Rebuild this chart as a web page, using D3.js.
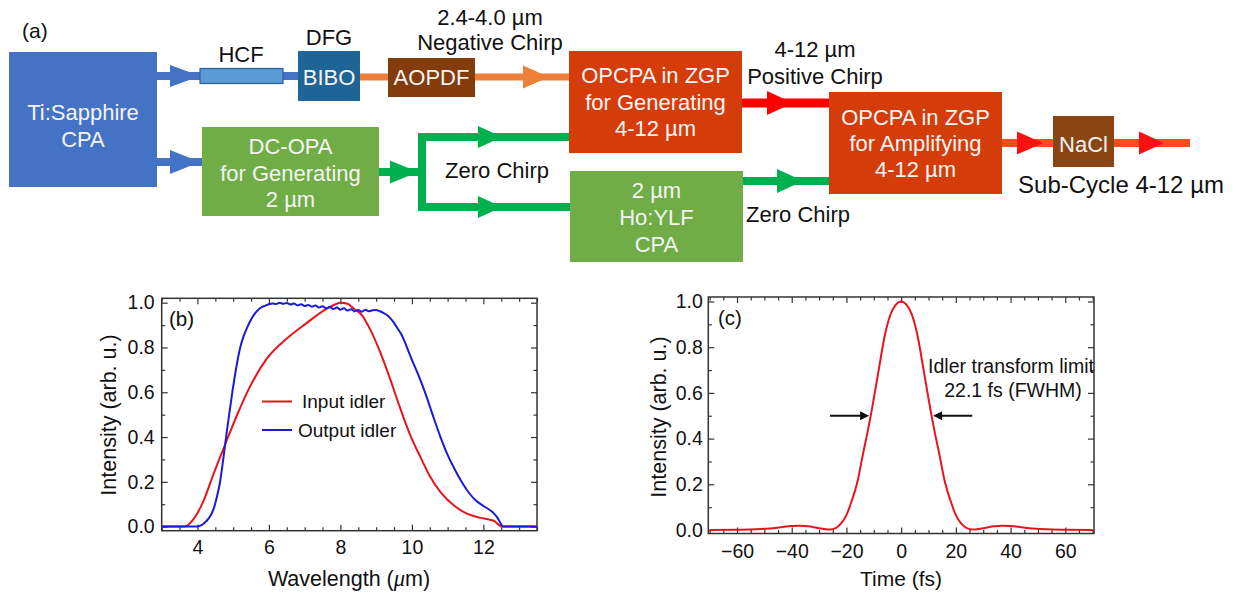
<!DOCTYPE html>
<html><head><meta charset="utf-8">
<script src="https://cdn.jsdelivr.net/npm/d3@7"></script>
<style>
body{margin:0;background:#fff;}
svg{display:block;font-family:"Liberation Sans",Arial,Helvetica,sans-serif;}
</style>
</head><body>
<svg id="fig" width="1242" height="594"></svg>
<script>
// ================= DATA =================
// (a) schematic texts
const boxTexts = [
  ["Ti:Sapphire","CPA"],
  ["BIBO"],
  ["AOPDF"],
  ["OPCPA in ZGP","for Generating","4-12 µm"],
  ["DC-OPA","for Generating","2 µm"],
  ["2 µm","Ho:YLF","CPA"],
  ["OPCPA in ZGP","for Amplifying","4-12 µm"],
  ["NaCl"]
];
const beamLabels = [
  ["(a)"],["HCF"],["DFG"],["2.4-4.0 µm","Negative Chirp"],["4-12 µm","Positive Chirp"],
  ["Zero Chirp"],["Zero Chirp"],["Sub-Cycle 4-12 µm"]
];

// (b) spectra
const inputWl = [3.0,3.65,3.89,4.17,4.45,4.77,5.10,5.47,5.94,6.5,7.06,7.62,7.85,8.0,8.2,8.37,8.6,8.85,9.11,9.4,9.67,9.95,10.24,10.52,10.8,11.17,11.54,11.9,12.29,12.52,13.5];
const inputI  = [0,0,0.033,0.115,0.235,0.365,0.495,0.625,0.75,0.84,0.91,0.974,0.992,1.0,0.995,0.974,0.945,0.875,0.78,0.655,0.53,0.41,0.31,0.22,0.154,0.095,0.058,0.04,0.026,0.0,0];
const outputWl = [3.0,3.98,4.1,4.21,4.33,4.45,4.54,4.63,4.70,4.77,4.84,4.91,4.98,5.05,5.12,5.19,5.28,5.38,5.5,5.61,5.75,5.9,
  6.0,6.1,6.2,6.3,6.4,6.5,6.6,6.7,6.8,6.9,7.0,7.1,7.2,7.3,7.4,7.5,7.6,7.7,7.8,7.9,8.0,8.1,8.2,8.3,8.4,8.5,8.6,8.7,8.8,8.9,9.0,9.1,
  9.2,9.3,9.4,9.5,9.6,9.7,9.8,9.9,10.0,10.2,10.4,10.6,10.8,11.0,11.2,11.4,11.6,11.8,12.0,12.2,12.3,12.4,12.5,12.55,13.5];
const outputI  = [0,0,0.005,0.018,0.04,0.078,0.13,0.197,0.275,0.36,0.445,0.526,0.605,0.676,0.74,0.795,0.845,0.885,0.925,0.952,0.975,0.987,
  0.993,0.996,0.994,1.0,0.995,0.999,0.992,0.996,0.988,0.993,0.985,0.99,0.982,0.987,0.978,0.984,0.975,0.981,0.972,0.978,0.969,0.975,0.965,0.971,0.961,0.967,0.96,0.968,0.962,0.966,0.967,0.962,
  0.955,0.945,0.93,0.91,0.885,0.86,0.825,0.785,0.745,0.67,0.585,0.49,0.40,0.32,0.255,0.198,0.15,0.115,0.092,0.072,0.058,0.038,0.01,0,0];
const seriesNames = ["Input idler","Output idler"];
const bXTicks = [4,6,8,10,12];
const bYTicks = [0,0.2,0.4,0.6,0.8,1.0];

// (c) transform-limited pulse
const timeFs = [-70,-60,-53,-48,-44,-40,-37,-34,-31,-28,-26,-24,-22,-20,-18,-16,-14,-12,-10,-8,-6,-4,-2,0,
                 2,4,6,8,10,12,14,16,18,20,22,24,26,28,31,34,37,40,44,48,53,60,70];
const pulseI = [0,0.001,0.003,0.007,0.012,0.017,0.019,0.016,0.01,0.004,0.002,0.008,0.028,0.065,0.13,0.21,0.33,0.445,0.575,0.715,0.85,0.94,0.985,1.0,
                0.985,0.94,0.85,0.715,0.575,0.445,0.33,0.21,0.13,0.065,0.028,0.008,0.002,0.004,0.01,0.016,0.019,0.017,0.012,0.007,0.003,0.001,0];
const cXTicks = [-60,-40,-20,0,20,40,60];
const cYTicks = [0,0.2,0.4,0.6,0.8,1.0];
const fwhmText = ["Idler transform limit","22.1 fs (FWHM)"];
const fwhmHalf = 0.5;

// ================= DRAW =================
const svg = d3.select("#fig");
const BOXTXT = "#f4f4f4";

// ---- (a) schematic ----
const ga = svg.append("g");
function line(x1,y1,x2,y2,c,w){ ga.append("line").attr("x1",x1).attr("y1",y1).attr("x2",x2).attr("y2",y2).attr("stroke",c).attr("stroke-width",w); }
function head(tip,y,c,len,half){ ga.append("polygon").attr("points",`${tip-len},${y-half} ${tip-len},${y+half} ${tip},${y}`).attr("fill",c); }

const BLUE="#4472C4", ORANGE="#EE7F36", RED="#FF0000", GREEN="#00B050", OUT="#FF4A1C";
line(150,76,205,76,BLUE,8); line(280,76,300,76,BLUE,8); head(200,76,BLUE,30,11);
line(150,162,205,162,BLUE,8); head(200,162,BLUE,30,12);
line(355,77,392,77,ORANGE,7); line(470,77,572,77,ORANGE,7); head(549,77,ORANGE,26,11.5);
line(738,103,832,103,RED,9); head(793,103,RED,26,12);
line(375,172,422,172,GREEN,8); head(418,172,GREEN,28,11.5);
line(422,133,422,211,GREEN,8);
line(418,137,572,137,GREEN,8); head(502,137,GREEN,24,11);
line(418,207,572,207,GREEN,8); head(502,207,GREEN,24,11);
line(738,181,832,181,GREEN,8); head(803,181,GREEN,26,12);
line(998,143,1056,143,OUT,8); line(1110,143,1190,143,OUT,8);
head(1043,143,"#FF1010",26,11.5); head(1164,143,"#FF1010",25,11.5);

// HCF tube
ga.append("rect").attr("x",200).attr("y",68.5).attr("width",83).attr("height",15)
  .attr("fill","#5B9BD5").attr("stroke","#2E5E9A").attr("stroke-width",1.2);

// boxes: [x,y,w,h,fill,firstBaseline,lineGap]
const boxLayout = [
  [9,52,148,135,"#4472C4",120,27],
  [298,51,62,50,"#1F6496",85,0],
  [388,58,87,39,"#843C0C",85,0],
  [569,51,173,102,"#D43D0A",83,26.5],
  [202,127,177,89,"#70AD47",154,26.5],
  [570,171,173,91,"#70AD47",198,27],
  [829,92,173,102,"#D43D0A",125,26],
  [1053,116,61,51,"#8B4513",152,0]
];
boxLayout.forEach((b,i)=>{
  ga.append("rect").attr("x",b[0]).attr("y",b[1]).attr("width",b[2]).attr("height",b[3]).attr("fill",b[4]);
  boxTexts[i].forEach((t,j)=>{
    ga.append("text").attr("x",b[0]+b[2]/2).attr("y",b[5]+j*b[6]).attr("text-anchor","middle")
      .attr("font-size",22).attr("fill",BOXTXT).text(t);
  });
});
// black labels: [cx, firstBaseline, gap, anchor, size]
const labelLayout = [
  [22,38,0,"start",21],[241,62,0,"middle",22],[329,45,0,"middle",22],[490,25,25,"middle",22],[815,57,27,"middle",22],
  [497,178,0,"middle",22],[798,222,0,"middle",22],[1121,193,0,"middle",24]
];
labelLayout.forEach((l,i)=>{
  beamLabels[i].forEach((t,j)=>{
    ga.append("text").attr("x",l[0]).attr("y",l[1]+j*l[2]).attr("text-anchor",l[3])
      .attr("font-size",l[4]).attr("fill","#111").text(t);
  });
});

// ---- axes helper ----
function frameAxes(x,y,xMaj,xMin,yMaj,yMin,xFmt,xPad,yPad){
  const [xa,xb]=x.range(), [ya,yb]=y.range();
  const g = svg.append("g");
  const mk = (axis,tr,vals,size,fmt,pad)=>{
    const a = g.append("g").attr("transform",tr)
      .call(axis.tickValues(vals).tickSizeInner(-size).tickSizeOuter(0).tickPadding(pad||3).tickFormat(fmt));
    a.select(".domain").remove();
    a.selectAll("line").attr("stroke","#333").attr("stroke-width",1.2);
    a.selectAll("text").attr("font-size",19.5).attr("fill","#111").attr("font-family",'"Liberation Sans",Arial,sans-serif');
    return a;
  };
  mk(d3.axisBottom(x),`translate(0,${ya})`,xMaj,6,xFmt,xPad);
  mk(d3.axisBottom(x),`translate(0,${ya})`,xMin,3.5,()=>"" );
  mk(d3.axisTop(x),`translate(0,${yb})`,xMaj,6,()=>"");
  mk(d3.axisTop(x),`translate(0,${yb})`,xMin,3.5,()=>"");
  mk(d3.axisLeft(y),`translate(${xa},0)`,yMaj,6,d3.format(".1f"),yPad);
  mk(d3.axisLeft(y),`translate(${xa},0)`,yMin,3.5,()=>"");
  mk(d3.axisRight(y),`translate(${xb},0)`,yMaj,6,()=>"");
  mk(d3.axisRight(y),`translate(${xb},0)`,yMin,3.5,()=>"");
  g.append("rect").attr("x",xa).attr("y",yb).attr("width",xb-xa).attr("height",ya-yb)
    .attr("fill","none").attr("stroke","#333").attr("stroke-width",1.5);
}

// ---- (b) ----
const xB = d3.scaleLinear().domain([3,13.5]).range([161.7,537]);
const yB = d3.scaleLinear().domain([-0.0183,1.0196]).range([530.7,298.3]);
const bXMinor = d3.range(3,13.51,0.5).filter(v=>!bXTicks.includes(v));
const yMinorVals = d3.range(0,10.5,1).map(v=>v/10).filter((v,i)=>i%2===1);
frameAxes(xB,yB,bXTicks,bXMinor,bYTicks,yMinorVals,d3.format("d"),9,7);
const lineB = d3.line().x(d=>xB(d[0])).y(d=>yB(d[1])).curve(d3.curveMonotoneX);
svg.append("path").datum(inputWl.map((v,i)=>[v,inputI[i]])).attr("d",lineB)
  .attr("fill","none").attr("stroke","#E8141C").attr("stroke-width",2);
svg.append("path").datum(outputWl.map((v,i)=>[v,outputI[i]])).attr("d",lineB)
  .attr("fill","none").attr("stroke","#1A1AD8").attr("stroke-width",2);
// legend
[["#E8141C",401.5,302],["#1A1AD8",430,298]].forEach((l,i)=>{
  svg.append("line").attr("x1",262).attr("x2",292).attr("y1",l[1]).attr("y2",l[1]).attr("stroke",l[0]).attr("stroke-width",2);
  svg.append("text").attr("x",l[2]).attr("y",l[1]+6.5).attr("font-size",19).attr("fill","#111").text(seriesNames[i]);
});
svg.append("text").attr("x",169).attr("y",326).attr("font-size",20.5).attr("fill","#111").text("(b)");
svg.append("text").attr("transform","translate(116,415) rotate(-90)").attr("text-anchor","middle")
  .attr("font-size",21.5).attr("fill","#111").text("Intensity (arb. u.)");
const xlb = svg.append("text").attr("x",349).attr("y",586).attr("text-anchor","middle").attr("font-size",21.5).attr("fill","#111");
xlb.append("tspan").text("Wavelength (");
xlb.append("tspan").attr("font-style","italic").attr("font-family",'"Liberation Serif","DejaVu Serif",serif').attr("font-size",22.5).text("μ");
xlb.append("tspan").text("m)");

// ---- (c) ----
const xC = d3.scaleLinear().domain([-70.5,70.5]).range([708.3,1094]);
const yC = d3.scaleLinear().domain([-0.0153,1.0197]).range([533.5,297]);
const cXMinor = d3.range(-70,70.1,5).filter(v=>!cXTicks.includes(v));
frameAxes(xC,yC,cXTicks,cXMinor,cYTicks,yMinorVals,t=>t<0?"\u2212"+Math.abs(t):String(t),11,5.5);
const lineC = d3.line().x(d=>xC(d[0])).y(d=>yC(d[1])).curve(d3.curveMonotoneX);
svg.append("path").datum(timeFs.map((v,i)=>[v,pulseI[i]])).attr("d",lineC)
  .attr("fill","none").attr("stroke","#E8141C").attr("stroke-width",2);
function arrowC(from,to){
  const y=yC(fwhmHalf), x1=xC(from), x2=xC(to), dir=Math.sign(x2-x1);
  svg.append("line").attr("x1",x1).attr("y1",y).attr("x2",x2-dir*6).attr("y2",y).attr("stroke","#111").attr("stroke-width",1.8);
  svg.append("polygon").attr("points",`${x2},${y} ${x2-dir*9},${y-4.5} ${x2-dir*9},${y+4.5}`).attr("fill","#111");
}
arrowC(-26,-11.7); arrowC(26,11.7);
svg.append("text").attr("x",1011).attr("y",373).attr("text-anchor","middle").attr("font-size",19.5).attr("fill","#111").text(fwhmText[0]);
svg.append("text").attr("x",1013).attr("y",397).attr("text-anchor","middle").attr("font-size",19.5).attr("fill","#111").text(fwhmText[1]);
svg.append("text").attr("x",718).attr("y",325).attr("font-size",20.5).attr("fill","#111").text("(c)");
svg.append("text").attr("transform","translate(666,417) rotate(-90)").attr("text-anchor","middle")
  .attr("font-size",21.5).attr("fill","#111").text("Intensity (arb. u.)");
svg.append("text").attr("x",901).attr("y",586).attr("text-anchor","middle").attr("font-size",21).attr("fill","#111").text("Time (fs)");
</script>
</body></html>
